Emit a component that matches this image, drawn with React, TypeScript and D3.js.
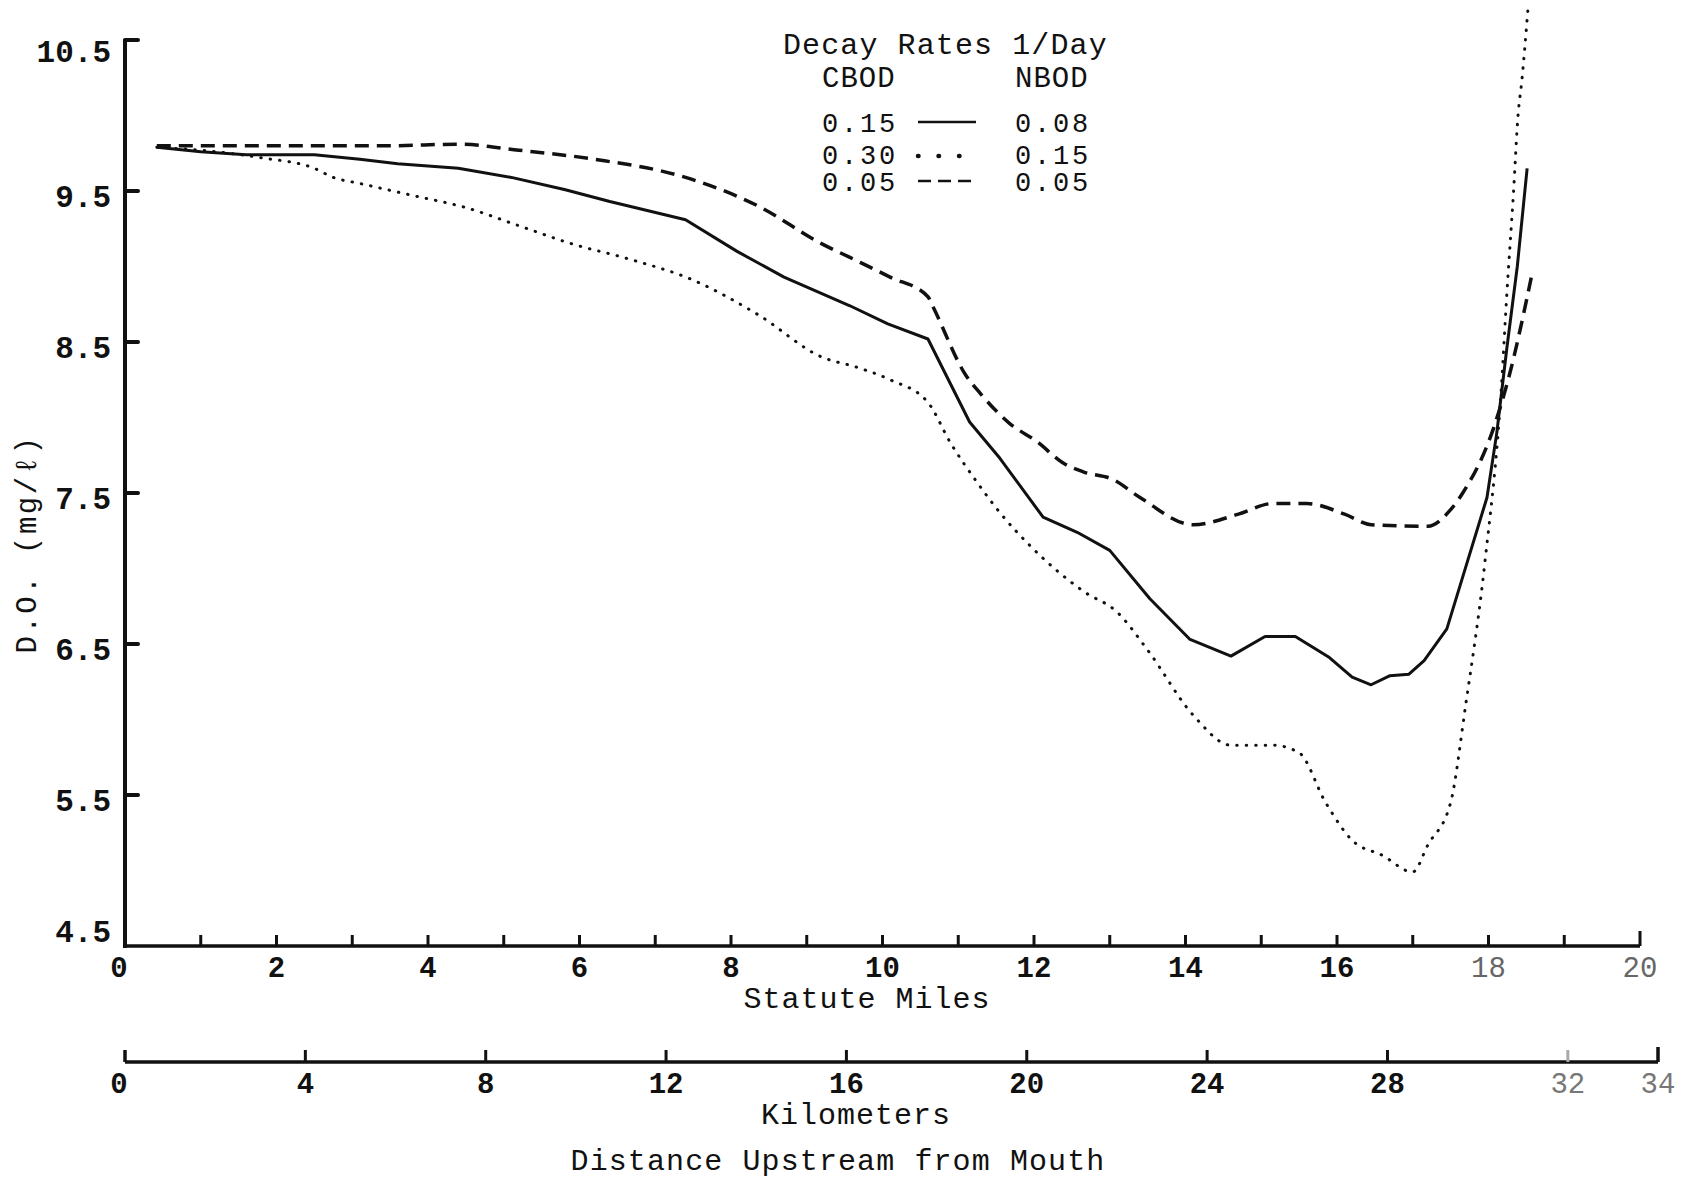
import React from "react";
import * as d3 from "d3";

// D.O. profiles, distance in statute miles vs mg/l
const solidMiles = [0.42, 1.0, 1.6, 2.5, 3.1, 3.6, 4.4, 5.1, 5.8, 6.4, 7.4, 8.08, 8.7, 9.57, 10.07, 10.6, 11.15, 11.55, 12.12, 12.57, 13.0, 13.53, 14.06, 14.6, 15.05, 15.45, 15.9, 16.2, 16.45, 16.7, 16.95, 17.15, 17.45, 17.98, 18.11, 18.24, 18.38, 18.51];
const solidDO = [9.79, 9.76, 9.74, 9.74, 9.71, 9.68, 9.65, 9.59, 9.51, 9.43, 9.31, 9.1, 8.93, 8.74, 8.62, 8.52, 7.97, 7.73, 7.34, 7.24, 7.12, 6.8, 6.53, 6.42, 6.55, 6.55, 6.41, 6.28, 6.23, 6.29, 6.3, 6.39, 6.6, 7.47, 7.9, 8.45, 9.0, 9.65];

const dottedMiles = [0.42, 1.2, 1.8, 2.5, 2.75, 3.1, 3.8, 4.5, 5.2, 5.9, 6.65, 7.5, 8.36, 9.2, 9.68, 10.1, 10.6, 10.9, 11.25, 11.55, 11.97, 12.65, 13.1, 13.5, 14.1, 14.6, 15.15, 15.5, 15.85, 16.2, 16.6, 17.0, 17.2, 17.5, 17.7, 17.95, 18.17, 18.24, 18.33, 18.39, 18.44, 18.52];
const dottedDO = [9.79, 9.76, 9.72, 9.65, 9.59, 9.55, 9.47, 9.39, 9.27, 9.15, 9.05, 8.91, 8.68, 8.4, 8.33, 8.25, 8.1, 7.83, 7.57, 7.37, 7.14, 6.85, 6.71, 6.46, 6.03, 5.83, 5.83, 5.78, 5.45, 5.2, 5.1, 4.99, 5.17, 5.45, 6.1, 7.03, 8.2, 8.8, 9.49, 10.0, 10.23, 10.7];

const dashedMiles = [0.42, 1.5, 2.5, 3.5, 4.4, 5.2, 6.2, 7.4, 8.36, 9.2, 9.57, 10.1, 10.6, 10.67, 11.1, 11.29, 11.68, 12.04, 12.38, 12.65, 13.04, 13.4, 14.1, 14.7, 15.15, 15.6, 16.1, 16.45, 17.2, 17.5, 17.66, 18.06, 18.28, 18.57];
const dashedDO = [9.8, 9.8, 9.8, 9.8, 9.81, 9.77, 9.71, 9.59, 9.4, 9.15, 9.06, 8.93, 8.8, 8.73, 8.28, 8.16, 7.96, 7.84, 7.7, 7.64, 7.59, 7.47, 7.29, 7.36, 7.43, 7.43, 7.36, 7.29, 7.28, 7.39, 7.5, 7.92, 8.29, 8.94];

const yTicks = [4.5, 5.5, 6.5, 7.5, 8.5, 9.5, 10.5];
const mileTicks = d3.range(1, 21);
const mileLabels = [0, 2, 4, 6, 8, 10, 12, 14, 16, 18, 20];
const kmTicks = [4, 8, 12, 16, 20, 24, 28, 32];
const kmLabels = [0, 4, 8, 12, 16, 20, 24, 28, 32, 34];

const legendCBOD = ["0.15", "0.30", "0.05"];
const legendNBOD = ["0.08", "0.15", "0.05"];

const FONT = "'Liberation Mono', 'DejaVu Sans Mono', monospace";
const INK = "#111";

export default function App() {
  const x = d3.scaleLinear().domain([0, 20]).range([125, 1640]);
  const km = d3.scaleLinear().domain([0, 34]).range([125, 1658]);
  const y = d3.scaleLinear().domain([4.5, 10.5]).range([946, 40]);

  const mkLine = (xs: number[], ys: number[], curve: d3.CurveFactory) =>
    d3
      .line<number>()
      .x((d) => x(d))
      .y((_, i) => y(ys[i]))
      .curve(curve)(xs) || "";

  const solidPath = mkLine(solidMiles, solidDO, d3.curveLinear);
  const dottedPath = mkLine(dottedMiles, dottedDO, d3.curveMonotoneX);
  const dashedPath = mkLine(dashedMiles, dashedDO, d3.curveMonotoneX);

  const legendRowY = [122, 154, 181];

  const axisY0 = y(4.5);
  const kmY = 1062;

  // label baseline offsets relative to the tick
  const yLabelY = (t: number) => (t === 4.5 ? y(t) - 4 : t === 10.5 ? y(t) + 22 : y(t) + 16);

  return (
    <svg
      width={1699}
      height={1181}
      style={{ position: "absolute", left: 0, top: 0, background: "#fff" }}
      fontFamily={FONT}
    >
      {/* y axis */}
      <line x1={125} x2={125} y1={y(10.5) - 1} y2={axisY0 + 2} stroke={INK} strokeWidth={4} />
      {yTicks.slice(1).map((t) => (
        <line key={t} x1={125} x2={138} y1={y(t)} y2={y(t)} stroke={INK} strokeWidth={4} strokeLinecap="round" />
      ))}
      {yTicks.map((t) => (
        <text key={t} x={111} y={yLabelY(t)} textAnchor="end" fontSize={31} fontWeight="bold" fill={INK}>
          {t.toFixed(1)}
        </text>
      ))}
      <text
        transform={`translate(36,544) rotate(-90)`}
        textAnchor="middle"
        fontSize={29}
        letterSpacing={2.5}
        fill={INK}
      >
        D.O. (mg/ℓ)
      </text>

      {/* statute miles axis */}
      <line x1={123} x2={x(20)} y1={axisY0} y2={axisY0} stroke={INK} strokeWidth={3.5} />
      {mileTicks.map((m) => (
        <line
          key={m}
          x1={x(m)}
          x2={x(m)}
          y1={axisY0}
          y2={axisY0 - (m === 20 ? 15 : 11)}
          stroke={INK}
          strokeWidth={3}
        />
      ))}
      {mileLabels.map((m) => (
        <text
          key={m}
          x={x(m) - (m === 0 ? 6 : 0)}
          y={977}
          textAnchor="middle"
          fontSize={29}
          fontWeight={m >= 18 ? "normal" : "bold"}
          fill={m >= 18 ? "#666" : INK}
        >
          {m}
        </text>
      ))}
      <text x={867} y={1008} textAnchor="middle" fontSize={30} letterSpacing={1} fill={INK}>
        Statute Miles
      </text>

      {/* kilometers axis */}
      <line x1={km(0)} x2={km(34)} y1={kmY} y2={kmY} stroke={INK} strokeWidth={3.5} />
      <line x1={km(0)} x2={km(0)} y1={kmY} y2={kmY - 12} stroke={INK} strokeWidth={3.5} />
      <line x1={km(34)} x2={km(34)} y1={kmY} y2={kmY - 15} stroke={INK} strokeWidth={3.5} />
      {kmTicks.map((k) => (
        <line
          key={k}
          x1={km(k)}
          x2={km(k)}
          y1={kmY}
          y2={kmY - 12}
          stroke={k === 32 ? "#aaa" : INK}
          strokeWidth={3}
        />
      ))}
      {kmLabels.map((k) => (
        <text
          key={k}
          x={km(k) - (k === 0 ? 6 : 0)}
          y={1093}
          textAnchor="middle"
          fontSize={29}
          fontWeight={k >= 32 ? "normal" : "bold"}
          fill={k >= 32 ? "#777" : INK}
        >
          {k}
        </text>
      ))}
      <text x={856} y={1124} textAnchor="middle" fontSize={30} letterSpacing={1} fill={INK}>
        Kilometers
      </text>
      <text x={838} y={1170} textAnchor="middle" fontSize={30} letterSpacing={1.1} fill={INK}>
        Distance Upstream from Mouth
      </text>

      {/* curves */}
      <path d={dottedPath} fill="none" stroke={INK} strokeWidth={3} strokeDasharray="0.5 9" strokeLinecap="round" />
      <path d={dashedPath} fill="none" stroke={INK} strokeWidth={3.5} strokeDasharray="14 8" />
      <path d={solidPath} fill="none" stroke={INK} strokeWidth={3} strokeLinejoin="round" />

      {/* legend */}
      <text x={783} y={54} fontSize={30} letterSpacing={1.1} fill={INK}>
        Decay Rates 1/Day
      </text>
      <text x={822} y={87} fontSize={29} letterSpacing={1} fill={INK}>
        CBOD
      </text>
      <text x={1015} y={87} fontSize={29} letterSpacing={1} fill={INK}>
        NBOD
      </text>
      {legendCBOD.map((v, i) => (
        <g key={i}>
          <text x={822} y={legendRowY[i] + 10} fontSize={27} letterSpacing={2.8} fill={INK}>
            {v}
          </text>
          <line
            x1={918}
            x2={976}
            y1={legendRowY[i] + (i === 1 ? 2 : 0)}
            y2={legendRowY[i] + (i === 1 ? 2 : 0)}
            stroke={INK}
            strokeWidth={i === 1 ? 4.5 : 2.5}
            strokeDasharray={i === 0 ? "none" : i === 1 ? "0.5 20" : "13 7"}
            strokeLinecap={i === 1 ? "round" : "butt"}
          />
          <text x={1015} y={legendRowY[i] + 10} fontSize={27} letterSpacing={2.8} fill={INK}>
            {legendNBOD[i]}
          </text>
        </g>
      ))}
    </svg>
  );
}
